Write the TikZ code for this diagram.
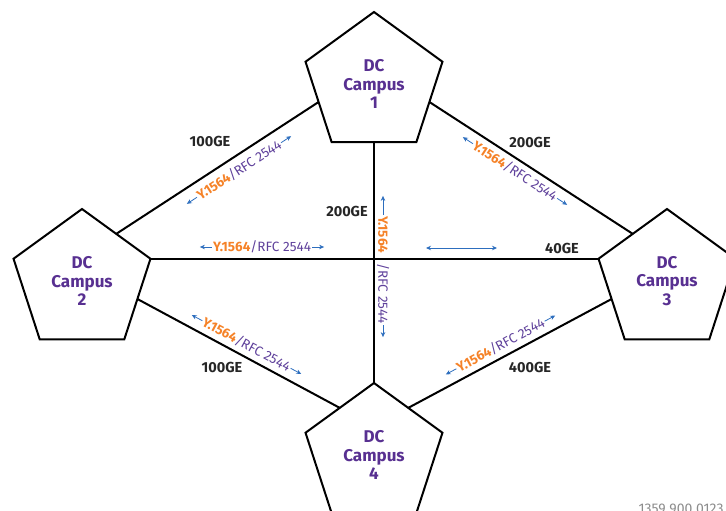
\documentclass[tikz,border=0pt]{standalone}
\usepackage{fontspec}
\setmainfont{Fira Sans}
\usetikzlibrary{shapes.geometric,arrows.meta,positioning,calc}
\definecolor{campuspurple}{RGB}{88,48,145}
\definecolor{rfcpurple}{RGB}{95,65,155}
\definecolor{ituorange}{RGB}{245,130,40}
\definecolor{sigblue}{RGB}{45,110,190}
\newcommand{\ituname}{{\bfseries\color{ituorange}Y.1564}}

\begin{document}
\begin{tikzpicture}[x=1pt, y=-1pt,
		campus/.style={regular polygon, regular polygon sides=5, draw=black, line width=2pt,
				minimum size=144pt, inner sep=0pt, outer sep=0pt, align=center,
				text=campuspurple, font=\fontsize{17}{18.3}\selectfont\bfseries},
		link/.style={line width=2pt, black},
		speed/.style={font=\fontsize{14.5}{14.5}\selectfont\bfseries, text=black!85},
		oam/.style={font=\fontsize{13.5}{13.5}\selectfont, text=rfcpurple, inner sep=1pt},
		sig/.style={-{Stealth[length=5pt, width=4.5pt]}, line width=0.8pt, sigblue},
		sigboth/.style={{Stealth[length=5pt, width=4.5pt]}-{Stealth[length=5pt, width=4.5pt]}, line width=0.8pt, sigblue},
		]
		\useasboundingbox (0,0) rectangle (726,511);

		% Campus sites
		\node[campus] (c1) at (374,84) {DC\\Campus\\1};
		\node[campus] (c2) at (82,281) {DC\\Campus\\2};
		\node[campus] (c3) at (667,281) {DC\\Campus\\3};
		\node[campus] (c4) at (374,455) {DC\\Campus\\4};

		% Test labels along the links
		\node[oam, rotate=33] (l12) at (239,170) {\ituname/RFC 2544};
		\node[oam, rotate=-33] (l13) at (515,171) {\ituname/RFC 2544};
		\node[oam, rotate=-28.3] (l24) at (246.5,344.5) {\ituname/RFC 2544};
		\node[oam, rotate=28.3] (l34) at (500.5,345) {\ituname/RFC 2544};
		\node[oam] (lh) at (262,247) {\ituname/RFC 2544};
		\node[oam, rotate=-90] (lv) at (383,270) {\ituname\hspace{10pt}/RFC 2544};
		\coordinate (hl) at (426,248);
		\coordinate (hr) at (497,248);

		\foreach \l in {l12,l13,l24,l34,lh} {
			\draw[sig] (\l.west) -- ($(\l.west)!-12pt!(\l.east)$);
			\draw[sig] (\l.east) -- ($(\l.east)!-12pt!(\l.west)$);
		}
		\draw[sig] (lv.west) -- ($(lv.west)!-19pt!(lv.east)$);
		\draw[sig] (lv.east) -- ($(lv.east)!-12pt!(lv.west)$);
		\draw[sigboth] (hl) -- (hr);

		% Links
		\draw[link] (c1.side 2) -- (c2.side 5);
		\draw[link] (c1.side 4) -- (c3.side 1);
		\draw[link] (c2.side 4) -- (c4.side 1);
		\draw[link] (c3.side 2) -- (c4.side 5);
		\draw[link] (c2.corner 5) -- (c3.corner 2);
		\draw[link] (c1.side 3) -- (c4.corner 1);

		% Link speeds
		\node[speed] (s12) at (210,141) {100GE};
		\node[speed] (s13) at (530,142) {200GE};
		\node[speed] (s14) at (347,211) {200GE};
		\node[speed] (s23) at (562,248) {40GE};
		\node[speed] (s24) at (222,367) {100GE};
		\node[speed] (s34) at (530,367) {400GE};

		\node[anchor=base west, font=\fontsize{14}{14}\selectfont, text=black!45] (fig) at (635,513) {1359 900 0123};
	\end{tikzpicture}
\end{document}
